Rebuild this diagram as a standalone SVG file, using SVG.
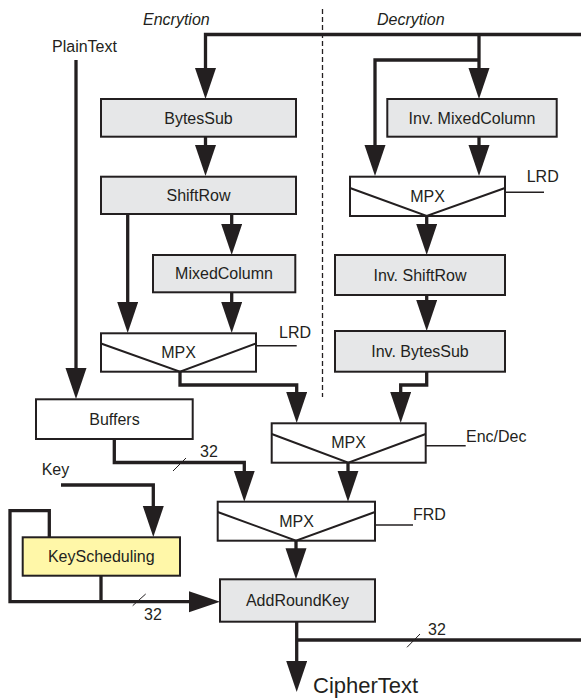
<svg xmlns="http://www.w3.org/2000/svg" width="581" height="698" viewBox="0 0 581 698">
<style>
text{font-family:"Liberation Sans",Arial,sans-serif;font-size:16px;fill:#231f20}
.c{text-anchor:middle}
.i{font-style:italic}
.box{fill:#e6e7e8;stroke:#231f20;stroke-width:2}
.wbox{fill:#ffffff;stroke:#231f20;stroke-width:2}
.ybox{fill:#fff7a8;stroke:#231f20;stroke-width:2}
.v{fill:none;stroke:#231f20;stroke-width:2}
.w{fill:none;stroke:#231f20;stroke-width:3.3;stroke-linejoin:miter}
.a{fill:none;stroke:#231f20;stroke-width:3.3;marker-end:url(#ah)}
.t{fill:none;stroke:#231f20;stroke-width:1.6}
.s{fill:none;stroke:#231f20;stroke-width:1}
.d{fill:none;stroke:#231f20;stroke-width:1.3;stroke-dasharray:5 3}
</style>
<defs>
<marker id="ah" markerUnits="userSpaceOnUse" markerWidth="32" markerHeight="22" refX="21" refY="10.5" orient="auto">
<path d="M0,0 L31,10.5 L0,21 z" fill="#231f20"/>
</marker>
</defs>
<line class="d" x1="322.5" y1="9" x2="322.5" y2="397"/>
<text class="i" x="143" y="25">Encrytion</text>
<text class="i" x="377" y="25">Decrytion</text>
<text x="52" y="52">PlainText</text>
<text x="41.7" y="475">Key</text>
<g id="connectors">
<path class="a" d="M581,34.5 H205.5 V89"/>
<path class="a" d="M479,34.5 V89"/>
<path class="a" d="M479,60 H375 V166"/>
<path class="a" d="M479,136.7 V166"/>
<path class="a" d="M205.5,136.7 V166"/>
<path class="a" d="M231.7,214 V245"/>
<path class="a" d="M127.7,214 V323"/>
<path class="a" d="M231.7,292.3 V323"/>
<path class="a" d="M76,60 V389"/>
<path class="a" d="M180,371.7 V385 H296.7 V413"/>
<path class="a" d="M426.7,216 V245"/>
<path class="a" d="M426.7,295 V321"/>
<path class="a" d="M426.7,371.7 V385 H400.7 V413"/>
<path class="a" d="M114.3,439 V462.5 H244.3 V491.7"/>
<path class="a" d="M348,462.7 V491.7"/>
<path class="a" d="M61,485 H153.3 V527"/>
<path class="a" d="M49.3,537.3 V510.7 H10 V601.7 H210"/>
<path class="w" d="M101,575.7 V601.7"/>
<path class="a" d="M296,540.7 V569.3"/>
<path class="a" d="M296.7,621.7 V682"/>
<path class="w" d="M296.7,640 H581"/>
<path class="t" d="M256,345.7 H296.7"/>
<path class="t" d="M505,192.3 H544"/>
<path class="t" d="M426,445.7 H465.7"/>
<path class="t" d="M375,525 H413"/>
<path class="s" d="M173,471 L186,458"/>
<path class="s" d="M132.7,605.7 L145.7,594"/>
<path class="s" d="M407,647.3 L420,634"/>
</g>
<text x="200" y="456.5">32</text>
<text x="144" y="620">32</text>
<text x="428" y="635">32</text>
<text x="279" y="338">LRD</text>
<text x="526.7" y="181.7">LRD</text>
<text x="466" y="441.7">Enc/Dec</text>
<text x="413" y="520">FRD</text>
<g id="bytessub"><rect class="box" x="101" y="99" width="195" height="37.7"/><text class="c" x="198.5" y="123.5">BytesSub</text></g>
<g id="shiftrow"><rect class="box" x="101" y="176.7" width="195" height="37.3"/><text class="c" x="198.5" y="201">ShiftRow</text></g>
<g id="mixedcolumn"><rect class="box" x="153" y="255" width="142.3" height="37.3"/><text class="c" x="224" y="279.4">MixedColumn</text></g>
<g id="mpx1"><rect class="wbox" x="101" y="333.3" width="155" height="38.4"/><path class="v" d="M101,343.5 L180,371.7 L256,343.5"/><text class="c" x="178.5" y="358">MPX</text></g>
<g id="buffers"><rect class="wbox" x="36" y="399.3" width="156.7" height="39.7"/><text class="c" x="114.5" y="424.5">Buffers</text></g>
<g id="invmixedcolumn"><rect class="box" x="387.3" y="99" width="169.4" height="37.7"/><text class="c" x="472" y="123.5">Inv. MixedColumn</text></g>
<g id="mpx2"><rect class="wbox" x="350" y="176.7" width="155" height="39.3"/><path class="v" d="M350,188 L426.7,216 L505,188"/><text class="c" x="427.5" y="201.7">MPX</text></g>
<g id="invshiftrow"><rect class="box" x="335" y="255" width="170" height="40"/><text class="c" x="420" y="280.7">Inv. ShiftRow</text></g>
<g id="invbytessub"><rect class="box" x="335" y="331" width="170" height="40.7"/><text class="c" x="420" y="357">Inv. BytesSub</text></g>
<g id="mpx3"><rect class="wbox" x="271.7" y="423.3" width="154" height="39.4"/><path class="v" d="M271.7,434 L348.3,462.7 L425.7,434"/><text class="c" x="348.5" y="448.3">MPX</text></g>
<g id="mpx4"><rect class="wbox" x="217.7" y="501.7" width="157.3" height="39"/><path class="v" d="M217.7,512 L296,540.7 L375,512"/><text class="c" x="296.5" y="526.7">MPX</text></g>
<g id="keyscheduling"><rect class="ybox" x="22.7" y="537.3" width="157.3" height="38.4"/><text class="c" x="101.3" y="562">KeyScheduling</text></g>
<g id="addroundkey"><rect class="box" x="220" y="579.3" width="155" height="42.4"/><text class="c" x="297.5" y="605.7">AddRoundKey</text></g>
<text x="313" y="693" style="font-size:22px">CipherText</text>
</svg>
